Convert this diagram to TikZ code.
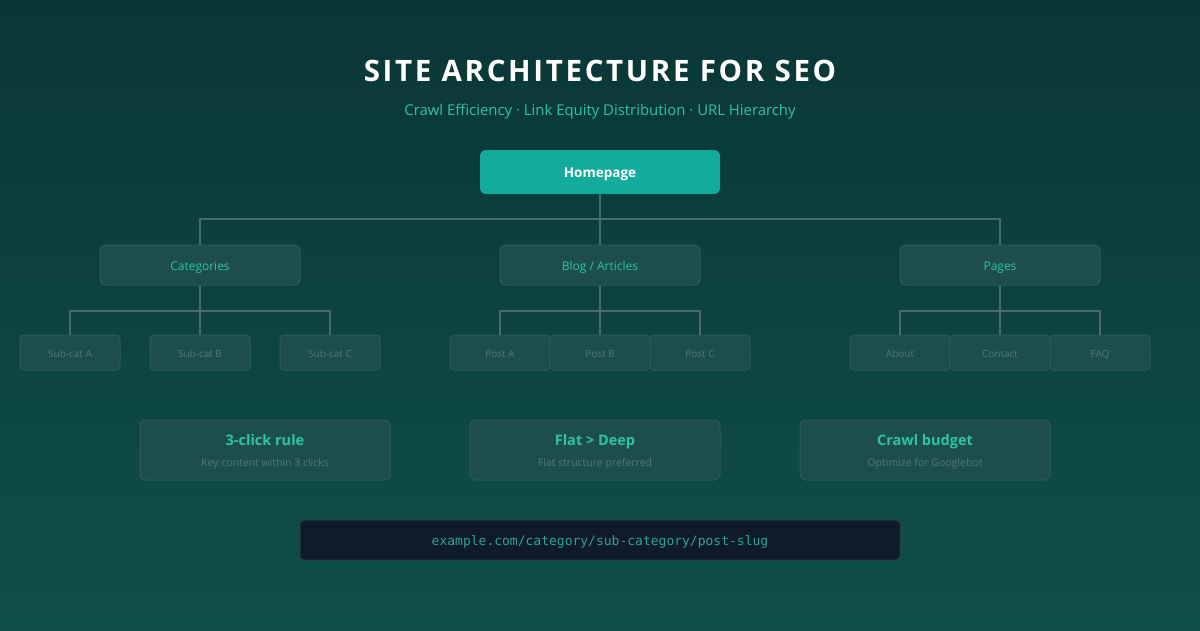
\documentclass[tikz,border=0pt]{standalone}
\usepackage{fontspec}
\setmainfont{Open Sans}
\newfontfamily\titlefont[LetterSpace=9]{Open Sans}
\setmonofont{DejaVu Sans Mono}
\definecolor{bgtop}{HTML}{0A3636}
\definecolor{bgbot}{HTML}{0F5048}
\definecolor{teal}{HTML}{14AB9A}
\definecolor{tealtxt}{HTML}{2EC4A0}
\definecolor{linec}{HTML}{4A6A6C}
\definecolor{boxfill}{HTML}{1D4E4B}
\definecolor{boxdraw}{HTML}{2B5A57}
\definecolor{graytxt}{HTML}{4F7A76}
\definecolor{urlfill}{HTML}{0F1A2A}
\definecolor{urldraw}{HTML}{26394A}
\definecolor{urltxt}{HTML}{2AA593}
\tikzset{
  conn/.style={draw=linec, line width=2pt},
  ctext/.style={text height=0.72em+3pt, text depth=0pt},
  l2box/.style={draw=boxdraw, fill=boxfill, line width=1pt, rounded corners=5pt, minimum width=200pt, minimum height=40pt, inner sep=0pt, text=tealtxt, ctext, font=\fontsize{12}{14}\selectfont},
  l3box/.style={draw=boxdraw, fill=boxfill, line width=1pt, rounded corners=4pt, minimum width=100pt, minimum height=35pt, inner sep=0pt, text=graytxt, ctext, font=\fontsize{10}{12}\selectfont},
  infobox/.style={draw=boxdraw, fill=boxfill, line width=1pt, rounded corners=6pt, minimum width=250pt, minimum height=60pt, inner sep=0pt},
  infotitle/.style={anchor=base, text=tealtxt, font=\bfseries\fontsize{14.5}{16}\selectfont},
  infosub/.style={anchor=base, text=graytxt, font=\fontsize{10.5}{12}\selectfont},
}
\begin{document}
\begin{tikzpicture}[x=1pt,y=-1pt]
\shade[left color=bgtop, right color=bgbot, shading angle=0] (0,0) rectangle (1200,630);
\useasboundingbox (0,0) rectangle (1200,630);
\shade[top color=bgtop, bottom color=bgbot, opacity=0.6] (0,0) rectangle (1200,630);

\node[anchor=base, text=white, font=\titlefont\bfseries\fontsize{29.5}{32}\selectfont] (title) at (600,81) {SITE ARCHITECTURE FOR SEO};
\node[anchor=base, text=tealtxt, font=\fontsize{14.9}{17}\selectfont] (subtitle) at (600,115) {Crawl Efficiency · Link Equity Distribution · URL Hierarchy};

\node[fill=teal, rounded corners=6pt, minimum width=240pt, minimum height=44pt, inner sep=0pt, text=white, ctext, font=\bfseries\fontsize{13.5}{15}\selectfont] (home) at (600,172) {Homepage};

\node[l2box] (cat) at (200,265) {Categories};
\node[l2box] (blog) at (600,265) {Blog / Articles};
\node[l2box] (pages) at (1000,265) {Pages};

\node[l3box] (sa) at (70,352.5) {Sub-cat A};
\node[l3box] (sb) at (200,352.5) {Sub-cat B};
\node[l3box] (sc) at (330,352.5) {Sub-cat C};
\node[l3box] (pa) at (500,352.5) {Post A};
\node[l3box] (pb) at (600,352.5) {Post B};
\node[l3box] (pc) at (700,352.5) {Post C};
\node[l3box] (ab) at (900,352.5) {About};
\node[l3box] (co) at (1000,352.5) {Contact};
\node[l3box] (fq) at (1100,352.5) {FAQ};

\coordinate (h1) at (600,219);
\draw[conn] (home.south) -- (h1);
\draw[conn] (cat.north) |- (h1) -| (pages.north);
\draw[conn] (h1) -- (blog.north);

\foreach \p/\a/\b/\c in {cat/sa/sb/sc, blog/pa/pb/pc, pages/ab/co/fq}{
  \coordinate (\p j) at ([yshift=-25pt]\p.south);
  \draw[conn] (\p.south) -- (\b.north);
  \draw[conn] (\a.north) |- (\p j) -| (\c.north);
}

\node[infobox] (i1) at (265,450) {};
\node[infotitle] (i1t) at (265,445) {3-click rule};
\node[infosub] (i1s) at (265,466) {Key content within 3 clicks};
\node[infobox] (i2) at (595,450) {};
\node[infotitle] (i2t) at (595,445) {Flat > Deep};
\node[infosub] (i2s) at (595,466) {Flat structure preferred};
\node[infobox] (i3) at (925,450) {};
\node[infotitle] (i3t) at (925,445) {Crawl budget};
\node[infosub] (i3s) at (925,466) {Optimize for Googlebot};

\node[draw=urldraw, fill=urlfill, line width=1pt, rounded corners=4pt, minimum width=600pt, minimum height=40pt, inner sep=0pt, text=urltxt, ctext, font=\ttfamily\fontsize{13}{15}\selectfont] (url) at (600,540) {example.com/category/sub-category/post-slug};
\end{tikzpicture}
\end{document}
